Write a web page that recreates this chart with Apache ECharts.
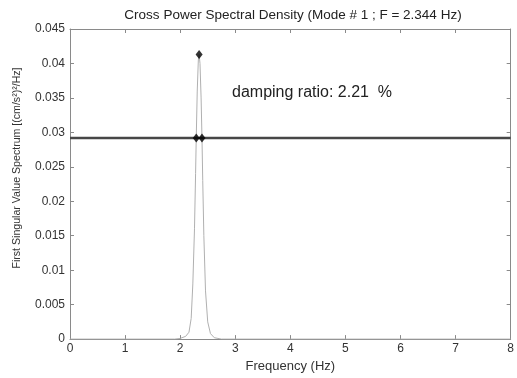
<!DOCTYPE html>
<html><head><meta charset="utf-8">
<script src="https://cdn.jsdelivr.net/npm/echarts@6/dist/echarts.min.js"></script>
<style>html,body{margin:0;padding:0;background:#fff}#c{width:517px;height:378px}</style>
</head><body><div id="c"></div>
<script>
// Spectrum (frequency in Hz, first singular value)
const freq = [0, 1.0, 1.9, 2.0, 2.1, 2.16, 2.2, 2.23, 2.26, 2.28, 2.292, 2.31, 2.33, 2.344, 2.36, 2.38, 2.396, 2.41, 2.43, 2.46, 2.5, 2.55, 2.62, 2.75, 4.0, 8.0];
const sv   = [0, 0, 0, 0.0001, 0.0004, 0.0010, 0.0030, 0.0080, 0.0160, 0.0240, 0.0292, 0.0360, 0.0405, 0.0413, 0.0400, 0.0350, 0.0292, 0.0230, 0.0150, 0.0070, 0.0025, 0.0008, 0.0002, 0, 0, 0];
// Peak and half-power points
const markFreq = [2.344, 2.292, 2.396];
const markVal  = [0.0413, 0.0292, 0.0292];
// Half-power level line
const halfPowerLevel = 0.0292;
const xRange = [0, 8];
const yTicks = [0, 0.005, 0.01, 0.015, 0.02, 0.025, 0.03, 0.035, 0.04, 0.045];
const titleText = 'Cross Power Spectral Density (Mode # 1 ; F = 2.344 Hz)';
const annotText = 'damping ratio: 2.21  %';
const yName = 'First Singular Value Spectrum [(cm/s²)²/Hz]';
const xName = 'Frequency (Hz)';

const chart = echarts.init(document.getElementById('c'));
const font = 'Liberation Sans, Arial, Helvetica, sans-serif';
const axisCol = '#8a8a8a';
const fmtY = v => String(+(+v).toFixed(3));
const commonX = {
  type: 'value', min: xRange[0], max: xRange[1], interval: 1,
  axisLine: { show: true, onZero: false, lineStyle: { color: axisCol, width: 1 } },
  axisTick: { show: true, inside: true, length: 4, lineStyle: { color: axisCol } },
  splitLine: { show: false }
};
const commonY = {
  type: 'value', min: 0, max: yTicks[yTicks.length - 1], interval: 0.005,
  axisLine: { show: true, onZero: false, lineStyle: { color: axisCol, width: 1 } },
  axisTick: { show: true, inside: true, length: 4, lineStyle: { color: axisCol } },
  splitLine: { show: false }
};
chart.setOption({
  animation: false,
  grid: { left: 70, right: 3, top: 29, bottom: 36, containLabel: false },
  xAxis: [
    Object.assign({}, commonX, {
      position: 'bottom',
      name: xName, nameLocation: 'middle', nameGap: 19,
      nameTextStyle: { color: '#333', fontSize: 13, fontFamily: font },
      axisLabel: { color: '#333', fontSize: 12, fontFamily: font, margin: 4 }
    }),
    Object.assign({}, commonX, { position: 'top', axisLabel: { show: false } })
  ],
  yAxis: [
    Object.assign({}, commonY, {
      position: 'left',
      axisLabel: { color: '#333', fontSize: 12, fontFamily: font, margin: 5, formatter: fmtY }
    }),
    Object.assign({}, commonY, { position: 'right', axisLabel: { show: false } })
  ],
  series: [
    {
      type: 'line', data: freq.map((f, i) => [f, sv[i]]),
      showSymbol: false, lineStyle: { color: '#b0b0b0', width: 1 }, z: 2
    },
    {
      type: 'line', data: [[xRange[0], halfPowerLevel], [xRange[1], halfPowerLevel]],
      showSymbol: false, lineStyle: { color: '#474747', width: 2.5 }, z: 3
    },
    {
      type: 'scatter', data: markFreq.map((f, i) => [f, markVal[i]]),
      symbol: 'diamond', symbolSize: [7, 9], itemStyle: { color: '#000' }, z: 4
    }
  ],
  graphic: [
    { type: 'text', x: 293, y: 15, style: { text: titleText, textAlign: 'center', textVerticalAlign: 'middle', fill: '#222', font: '13.5px ' + font } },
    { type: 'text', x: 232, y: 93, style: { text: annotText, textAlign: 'left', textVerticalAlign: 'middle', fill: '#222', font: '16px ' + font } },
    { type: 'text', x: 17, y: 168, rotation: Math.PI / 2, style: { text: yName, textAlign: 'center', textVerticalAlign: 'middle', fill: '#333', font: '10.6px ' + font } }
  ]
});
</script></body></html>
